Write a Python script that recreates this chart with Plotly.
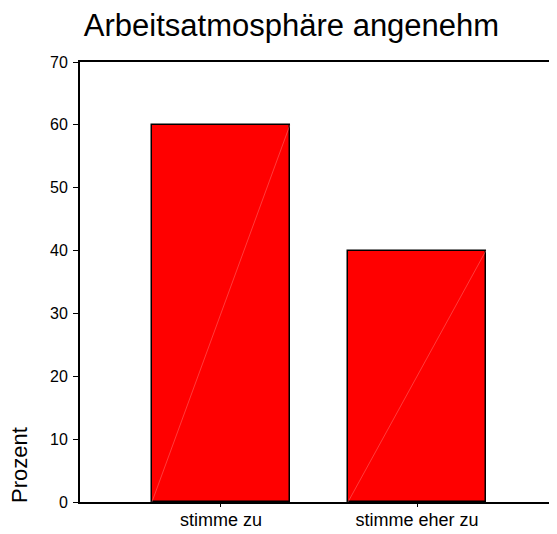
import plotly.graph_objects as go

categories = ["stimme zu", "stimme eher zu"]
values = [60, 40]
y_ticks = [0, 10, 20, 30, 40, 50, 60, 70]

bar_width = 0.704
xpos = list(range(len(categories)))

fig = go.Figure()
fig.add_trace(go.Bar(
    x=xpos, y=values, width=bar_width,
    marker=dict(color="#ff0000", line=dict(color="black", width=1.5)),
    showlegend=False, hoverinfo="skip",
))
for xi, v in zip(xpos, values):
    fig.add_trace(go.Scatter(
        x=[xi - bar_width / 2, xi + bar_width / 2], y=[0, v],
        mode="lines", line=dict(color="rgba(255,170,170,0.7)", width=0.5),
        showlegend=False, hoverinfo="skip",
    ))

fig.update_layout(
    width=549, height=526,
    margin=dict(l=72, r=0, t=54, b=32),
    paper_bgcolor="white", plot_bgcolor="white",
    font=dict(family="Liberation Sans, Arial, sans-serif", color="black", size=16),
    title=dict(text="Arbeitsatmosphäre angenehm", x=(291.5 - 8) / 549, xanchor="center",
               y=0.967, yanchor="middle", font=dict(size=31, color="black")),
    bargap=0,
)
fig.update_xaxes(
    range=[-0.719, 1.714], tickvals=xpos, ticktext=categories,
    showline=True, linecolor="black", linewidth=2, mirror=True,
    ticks="outside", ticklen=3, tickcolor="black", tickwidth=1,
    ticklabelstandoff=-3,
    showgrid=False, zeroline=False, tickfont=dict(size=18),
)
fig.update_yaxes(
    range=[0, 70], tickvals=y_ticks,
    showline=True, linecolor="black", linewidth=2, mirror=False,
    ticks="outside", ticklen=5, tickcolor="black", tickwidth=1,
    ticklabelstandoff=2,
    showgrid=False, zeroline=False, tickfont=dict(size=16),
)
fig.add_annotation(
    text="Prozent", xref="paper", yref="paper", x=-0.128, y=0.084,
    xanchor="center", yanchor="middle", textangle=-90, showarrow=False,
    borderpad=0, font=dict(size=22, color="black"),
)
fig.write_html("out.html")
